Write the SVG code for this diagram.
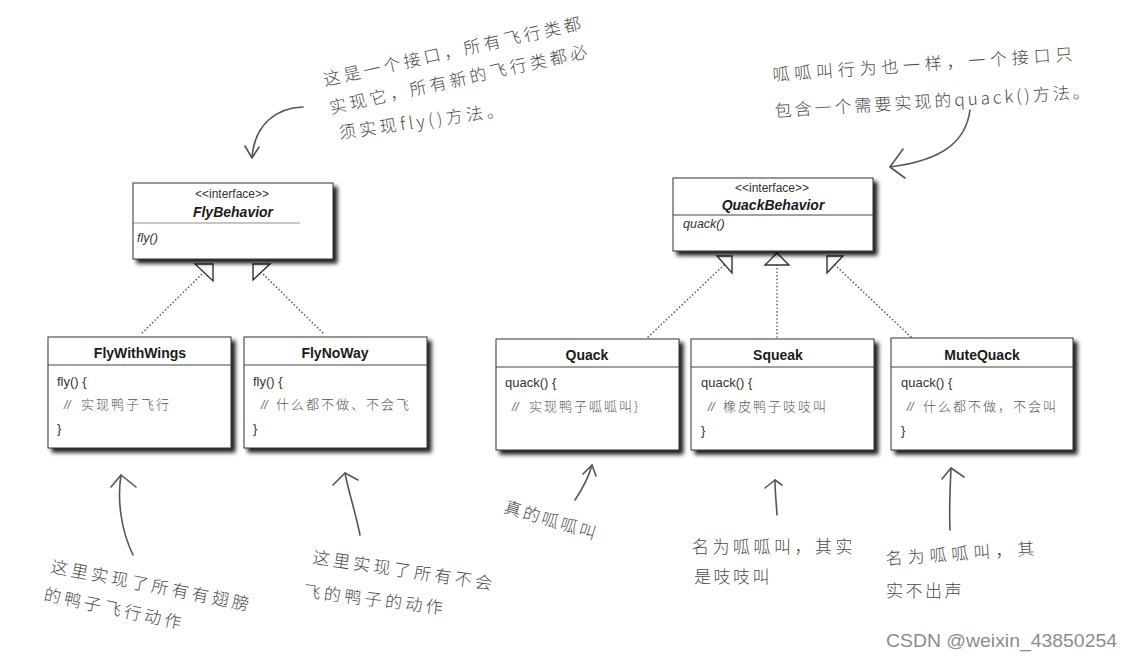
<svg xmlns="http://www.w3.org/2000/svg" width="1132" height="658" viewBox="0 0 1132 658">
<defs>
<filter id="sh" x="-10%" y="-10%" width="130%" height="140%">
<feGaussianBlur in="SourceAlpha" stdDeviation="2.2"/>
<feOffset dx="4" dy="4" result="b"/>
<feComponentTransfer><feFuncA type="linear" slope="0.9"/></feComponentTransfer>
<feMerge><feMergeNode/><feMergeNode in="SourceGraphic"/></feMerge>
</filter>
<style>
.box{fill:#fff;stroke:#333;stroke-width:1}
.dv{stroke:#444;stroke-width:1}
.title{font-family:"Liberation Sans",Arial,sans-serif;font-weight:bold;font-size:14px;fill:#1a1a1a;text-anchor:middle}
.stereo{font-family:"Liberation Sans",Arial,sans-serif;font-size:12px;fill:#333;text-anchor:middle}
.iname{font-family:"Liberation Sans",Arial,sans-serif;font-size:14px;font-weight:bold;font-style:italic;fill:#1a1a1a;text-anchor:middle}
.op{font-family:"Liberation Sans",Arial,sans-serif;font-size:12.5px;font-style:italic;fill:#333}
.code{font-family:"Liberation Sans",Arial,sans-serif;font-size:13px;fill:#333}
.sl{font-family:"Liberation Sans",Arial,sans-serif;font-size:12px;font-style:italic;fill:#666}
.cmt{font-family:"Noto Sans CJK SC",sans-serif;font-size:13px;fill:#555;letter-spacing:2px;font-weight:300}
.dot{fill:none;stroke:#555;stroke-width:1.6;stroke-dasharray:0.1 3.5;stroke-linecap:round}
.tri{fill:#fff;stroke:#333;stroke-width:1.4}
.hand{font-family:"Noto Sans CJK SC",sans-serif;font-size:17px;fill:#4a4a4a;letter-spacing:3.5px;font-weight:300}
.ha{fill:none;stroke:#555;stroke-width:1.6;stroke-linecap:round;stroke-linejoin:round}
.wm{font-family:"Liberation Sans",Arial,sans-serif;font-size:19px;fill:#8c8c8c}
</style>
</defs>
<rect width="1132" height="658" fill="#fff"/>

<g id="connectors">
<path class="dot" d="M204,272 L140,335"/>
<path class="dot" d="M261,272 L325,335"/>
<path class="dot" d="M724,265 L646,339"/>
<path class="dot" d="M777,265 L777,339"/>
<path class="dot" d="M835,265 L912,338"/>
<polygon class="tri" points="195,264 213,264 213,281"/>
<polygon class="tri" points="253,264 270,264 253,280"/>
<polygon class="tri" points="717,256 732,256 732,273"/>
<polygon class="tri" points="777,253 765,265 789,265"/>
<polygon class="tri" points="827,256 843,256 827,273"/>
</g>

<g id="FlyBehavior">
<rect class="box" x="133" y="183" width="200" height="76" filter="url(#sh)"/>
<line class="dv" x1="133" y1="223" x2="300" y2="223" stroke-opacity="0.6"/>
<text class="stereo" x="232" y="198">&lt;&lt;interface&gt;&gt;</text>
<text class="iname" x="233" y="217">FlyBehavior</text>
<text class="op" x="137" y="242">fly()</text>
</g>

<g id="QuackBehavior">
<rect class="box" x="673" y="178" width="200" height="73" filter="url(#sh)"/>
<line class="dv" x1="673" y1="215" x2="873" y2="215"/>
<text class="stereo" x="772" y="192">&lt;&lt;interface&gt;&gt;</text>
<text class="iname" x="773" y="210">QuackBehavior</text>
<text class="op" x="683" y="228">quack()</text>
</g>

<g id="FlyWithWings">
<rect class="box" x="48" y="337" width="183" height="111" filter="url(#sh)"/>
<line class="dv" x1="48" y1="365" x2="231" y2="365"/>
<text class="title" x="140" y="358">FlyWithWings</text>
<text class="code" x="57" y="386">fly() {</text>
<text class="sl" x="64" y="409">//</text>
<text class="cmt" x="81" y="409">实现鸭子飞行</text>
<text class="code" x="57" y="433">}</text>
</g>

<g id="FlyNoWay">
<rect class="box" x="244" y="337" width="183" height="111" filter="url(#sh)"/>
<line class="dv" x1="244" y1="365" x2="427" y2="365"/>
<text class="title" x="335" y="358">FlyNoWay</text>
<text class="code" x="253" y="386">fly() {</text>
<text class="sl" x="261" y="409">//</text>
<text class="cmt" x="276" y="409">什么都不做、不会飞</text>
<text class="code" x="253" y="433">}</text>
</g>

<g id="Quack">
<rect class="box" x="496" y="339" width="183" height="111" filter="url(#sh)"/>
<line class="dv" x1="496" y1="367" x2="679" y2="367"/>
<text class="title" x="587" y="360">Quack</text>
<text class="code" x="505" y="387">quack() {</text>
<text class="sl" x="512" y="411">//</text>
<text class="cmt" x="529" y="411">实现鸭子呱呱叫}</text>
</g>

<g id="Squeak">
<rect class="box" x="691" y="339" width="183" height="111" filter="url(#sh)"/>
<line class="dv" x1="691" y1="367" x2="874" y2="367"/>
<text class="title" x="778" y="360">Squeak</text>
<text class="code" x="701" y="387">quack() {</text>
<text class="sl" x="708" y="411">//</text>
<text class="cmt" x="723" y="411">橡皮鸭子吱吱叫</text>
<text class="code" x="701" y="435">}</text>
</g>

<g id="MuteQuack">
<rect class="box" x="891" y="338" width="182" height="112" filter="url(#sh)"/>
<line class="dv" x1="891" y1="367" x2="1073" y2="367"/>
<text class="title" x="982" y="360">MuteQuack</text>
<text class="code" x="901" y="387">quack() {</text>
<text class="sl" x="907" y="411">//</text>
<text class="cmt" x="923" y="411">什么都不做，不会叫</text>
<text class="code" x="901" y="435">}</text>
</g>

<g id="note-fly-interface">
<text class="hand" transform="translate(325,86) rotate(-12.5)">这是一个接口，所有飞行类都</text>
<text class="hand" transform="translate(331,114) rotate(-12.5)">实现它，所有新的飞行类都必</text>
<text class="hand" transform="translate(340,139) rotate(-8)">须实现fly()方法。</text>
<path class="ha" d="M303,107 C276,108 255,124 252,157"/>
<path class="ha" d="M245,146 L252,158 L259,147"/>
</g>

<g id="note-quack-interface">
<text class="hand" style="letter-spacing:4.8px" transform="translate(773,81) rotate(-4)">呱呱叫行为也一样，一个接口只</text>
<text class="hand" style="letter-spacing:3px" transform="translate(775,117) rotate(-3.5)">包含一个需要实现的quack()方法。</text>
<path class="ha" d="M970,110 C966,140 945,160 890,167"/>
<path class="ha" d="M903,149 L890,167 L905,178"/>
</g>

<g id="note-flywithwings">
<path class="ha" d="M133,555 C121,530 117,500 121,475"/>
<path class="ha" d="M111,487 L121,475 L136,487"/>
<text class="hand" transform="translate(50,572) rotate(11)">这里实现了所有有翅膀</text>
<text class="hand" transform="translate(43,600) rotate(12)">的鸭子飞行动作</text>
</g>

<g id="note-flynoway">
<path class="ha" d="M360,535 C355,510 348,490 345,473"/>
<path class="ha" d="M333,485 L345,473 L358,480"/>
<text class="hand" transform="translate(312,563) rotate(8.5)">这里实现了所有不会</text>
<text class="hand" transform="translate(303,597) rotate(7)">飞的鸭子的动作</text>
</g>

<g id="note-quack">
<path class="ha" d="M575,500 C583,488 589,476 592,465"/>
<path class="ha" d="M583,474 L592,465 L596,476"/>
<text class="hand" style="letter-spacing:2.5px" transform="translate(503,512) rotate(17)">真的呱呱叫</text>
</g>

<g id="note-squeak">
<path class="ha" d="M777,515 C776,500 775,490 775,480"/>
<path class="ha" d="M765,488 L775,480 L782,485"/>
<text class="hand" transform="translate(692,553)">名为呱呱叫，其实</text>
<text class="hand" style="letter-spacing:2.5px" transform="translate(694,583)">是吱吱叫</text>
</g>

<g id="note-mutequack">
<path class="ha" d="M950,530 C949,510 950,490 951,468"/>
<path class="ha" d="M942,479 L951,468 L964,477"/>
<text class="hand" style="letter-spacing:5px" transform="translate(886,565) rotate(-4)">名为呱呱叫，其</text>
<text class="hand" style="letter-spacing:2.5px" transform="translate(886,597)">实不出声</text>
</g>

<text class="wm" x="886" y="647" textLength="231" lengthAdjust="spacingAndGlyphs">CSDN @weixin_43850254</text>
</svg>
